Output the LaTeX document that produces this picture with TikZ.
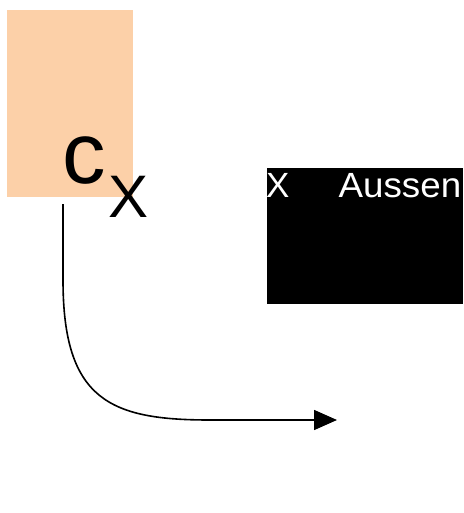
\documentclass[tikz,border=0pt]{standalone}
\usepackage{fontspec}
\setmainfont{Liberation Sans}
\usetikzlibrary{arrows.meta}
\definecolor{peach}{RGB}{252,208,168}
\tikzset{
  plainbox/.style={inner sep=0pt, outer sep=0pt, anchor=north west},
  curvearrow/.style={line width=1.6pt, -{Triangle[length=23pt,width=20pt]}}
}
\begin{document}
\begin{tikzpicture}[x=1pt,y=-1pt]
\useasboundingbox (0,0) rectangle (463,513);
\node[plainbox, fill=peach, minimum width=126pt, minimum height=187pt] (box) at (7,10) {};
\node[inner sep=0pt, anchor=base west] (cx) at (62,183)
  {\fontsize{87}{87}\selectfont c\hspace{3pt}\raisebox{-34pt}{\fontsize{60}{60}\selectfont X}};
\node[plainbox, fill=black, minimum width=196pt, minimum height=136pt] (outer) at (267,168) {};
\node[inner sep=0pt, anchor=base west, text=white, text width=195pt, font=\fontsize{35}{35}\selectfont] (lbl) at (266,197) {X\hfill\scalebox{1.05}[1]{Aussen}};
\coordinate (s) at (63,204);
\coordinate (e) at (337,420);
\draw[curvearrow] (s) -- (63,280) .. controls (63,400) and (110,420) .. (210,420) -- (e);
\end{tikzpicture}
\end{document}
